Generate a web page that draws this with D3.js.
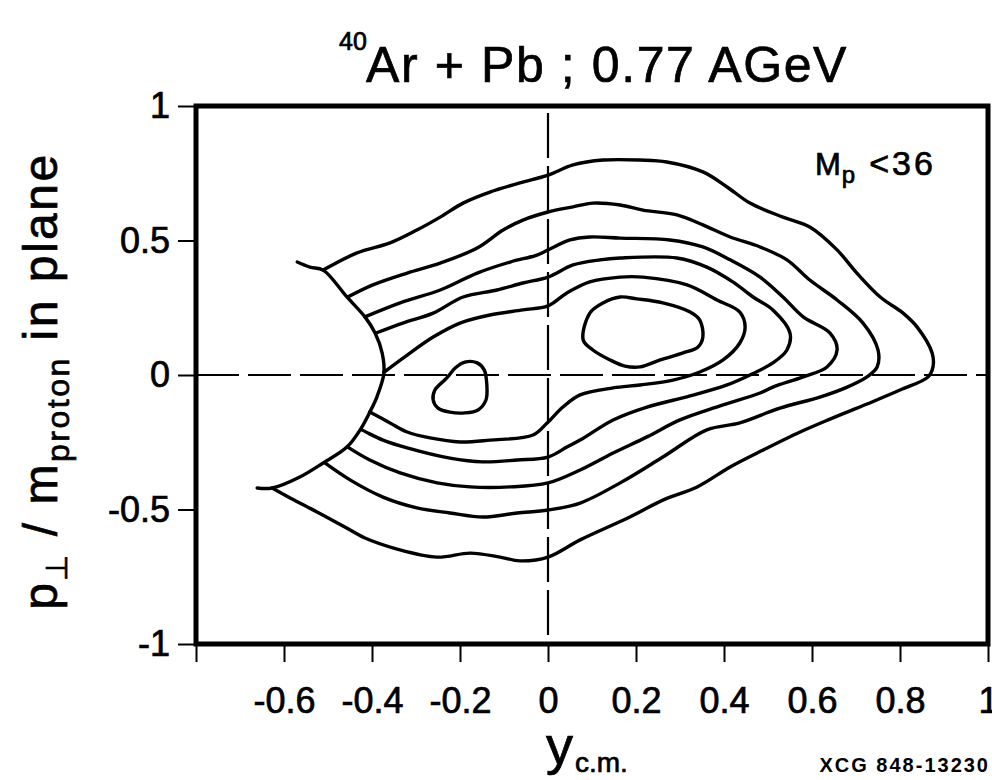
<!DOCTYPE html>
<html>
<head>
<meta charset="utf-8">
<script src="https://cdn.jsdelivr.net/npm/d3@7"></script>
<style>
  html, body { margin: 0; padding: 0; background: #fff; }
  svg { display: block; }
  text { font-family: "Liberation Sans", Arial, Helvetica, sans-serif; fill: #000; }
</style>
</head>
<body>
<svg id="chart" width="992" height="780"></svg>
<script>
// ---------------- data (y_cm , p_perp / m_proton) ----------------
const xTickValues = [-0.8, -0.6, -0.4, -0.2, 0, 0.2, 0.4, 0.6, 0.8, 1];
const xTickLabels = ["", "-0.6", "-0.4", "-0.2", "0", "0.2", "0.4", "0.6", "0.8", "1"];
const yTickValues = [-1, -0.5, 0, 0.5, 1];
const yTickLabels = ["-1", "-0.5", "0", "0.5", "1"];

// acceptance boundary (arc with short tails)
const boundary = [
  [-0.570, 0.420], [-0.541, 0.401], [-0.511, 0.390], [-0.457, 0.290], [-0.416, 0.216],
  [-0.393, 0.156], [-0.377, 0.082], [-0.373, 0.007], [-0.389, -0.082], [-0.405, -0.138],
  [-0.427, -0.204], [-0.457, -0.268], [-0.511, -0.327], [-0.564, -0.379], [-0.627, -0.420],
  [-0.661, -0.420]
];

// outermost contour
const contour1 = [
  [-0.511, 0.390], [-0.434, 0.454], [-0.359, 0.491], [-0.298, 0.539], [-0.245, 0.587],
  [-0.193, 0.639], [-0.132, 0.680], [-0.064, 0.714], [0, 0.743], [0.057, 0.781],
  [0.125, 0.799], [0.209, 0.799], [0.270, 0.792], [0.352, 0.755], [0.407, 0.699],
  [0.459, 0.639], [0.534, 0.587], [0.595, 0.550], [0.657, 0.465], [0.702, 0.379],
  [0.755, 0.290], [0.807, 0.230], [0.839, 0.178], [0.873, 0.082], [0.875, 0.030],
  [0.864, -0.007], [0.800, -0.056], [0.725, -0.108], [0.641, -0.164], [0.573, -0.212],
  [0.489, -0.279], [0.414, -0.342], [0.339, -0.416], [0.261, -0.465], [0.186, -0.528],
  [0.073, -0.613], [0, -0.677], [-0.064, -0.691], [-0.109, -0.677], [-0.177, -0.662],
  [-0.252, -0.677], [-0.343, -0.647], [-0.416, -0.606], [-0.466, -0.561], [-0.525, -0.509],
  [-0.586, -0.457], [-0.627, -0.420]
];

const contour2 = [
  [-0.455, 0.290], [-0.398, 0.335], [-0.320, 0.379], [-0.245, 0.416], [-0.161, 0.472],
  [-0.102, 0.539], [-0.057, 0.576], [0, 0.606], [0.057, 0.625], [0.102, 0.639],
  [0.164, 0.632], [0.216, 0.613], [0.293, 0.595], [0.352, 0.558], [0.414, 0.513],
  [0.482, 0.476], [0.543, 0.428], [0.595, 0.353], [0.657, 0.279], [0.716, 0.193],
  [0.750, 0.093], [0.748, 0.030], [0.725, -0.007], [0.680, -0.045], [0.618, -0.082],
  [0.527, -0.123], [0.436, -0.178], [0.361, -0.204], [0.261, -0.305], [0.164, -0.401],
  [0.073, -0.476], [0, -0.502], [-0.070, -0.513], [-0.148, -0.528], [-0.223, -0.513],
  [-0.298, -0.494], [-0.375, -0.454], [-0.450, -0.390], [-0.507, -0.327]
];

const contour3 = [
  [-0.416, 0.216], [-0.336, 0.268], [-0.245, 0.316], [-0.161, 0.379], [-0.086, 0.420],
  [-0.025, 0.446], [0, 0.465], [0.050, 0.502], [0.095, 0.513], [0.164, 0.509],
  [0.277, 0.502], [0.352, 0.476], [0.414, 0.428], [0.482, 0.364], [0.534, 0.290],
  [0.580, 0.216], [0.641, 0.156], [0.657, 0.093], [0.634, 0.030], [0.580, -0.007],
  [0.511, -0.045], [0.482, -0.067], [0.391, -0.115], [0.300, -0.167], [0.225, -0.230],
  [0.148, -0.290], [0.073, -0.353], [0, -0.401], [-0.086, -0.416], [-0.177, -0.416],
  [-0.252, -0.401], [-0.336, -0.364], [-0.405, -0.316], [-0.455, -0.268]
];

const contour4 = [
  [-0.391, 0.156], [-0.330, 0.193], [-0.261, 0.230], [-0.193, 0.290], [-0.116, 0.316],
  [-0.057, 0.342], [0, 0.364], [0.057, 0.409], [0.118, 0.428], [0.164, 0.435],
  [0.293, 0.435], [0.361, 0.401], [0.420, 0.346], [0.466, 0.290], [0.511, 0.242],
  [0.550, 0.156], [0.543, 0.093], [0.511, 0.045], [0.459, 0], [0.407, -0.037],
  [0.323, -0.078], [0.225, -0.119], [0.148, -0.167], [0.073, -0.242], [0.043, -0.268],
  [0, -0.305], [-0.070, -0.316], [-0.148, -0.323], [-0.223, -0.309], [-0.320, -0.271],
  [-0.375, -0.242], [-0.423, -0.204]
];

const contour5 = [
  [-0.373, 0.010], [-0.320, 0.074], [-0.261, 0.141], [-0.200, 0.193], [-0.132, 0.223],
  [-0.057, 0.242], [0, 0.257], [0.043, 0.305], [0.095, 0.346], [0.164, 0.364],
  [0.216, 0.364], [0.316, 0.335], [0.384, 0.279], [0.436, 0.234], [0.448, 0.178],
  [0.436, 0.119], [0.398, 0.056], [0.345, 0.011], [0.284, -0.019], [0.209, -0.037],
  [0.148, -0.048], [0.073, -0.074], [0.034, -0.119], [-0.002, -0.178], [-0.034, -0.223],
  [-0.132, -0.242], [-0.200, -0.249], [-0.268, -0.234], [-0.320, -0.212], [-0.359, -0.178],
  [-0.405, -0.138]
];

// closed loop around the main maximum
const peakLoop = [
  [0.080, 0.130], [0.095, 0.230], [0.125, 0.268], [0.164, 0.290], [0.202, 0.283],
  [0.261, 0.268], [0.323, 0.234], [0.345, 0.204], [0.352, 0.141], [0.341, 0.104],
  [0.307, 0.082], [0.255, 0.056], [0.209, 0.030], [0.175, 0.033], [0.141, 0.056],
  [0.102, 0.093]
];

// small closed loop near target rapidity
const smallLoop = [
  [-0.230, -0.011], [-0.211, 0.026], [-0.189, 0.048], [-0.161, 0.045], [-0.145, 0.019],
  [-0.139, -0.037], [-0.141, -0.093], [-0.159, -0.130], [-0.189, -0.141], [-0.223, -0.138],
  [-0.250, -0.123], [-0.261, -0.093], [-0.257, -0.056]
];

const openLines = [boundary, contour1, contour2, contour3, contour4, contour5];
const closedLines = [peakLoop, smallLoop];

// ---------------- drawing ----------------
const svg = d3.select("#chart");
const x = d3.scaleLinear().domain([-0.8, 1]).range([196, 988]);
const y = d3.scaleLinear().domain([-1, 1]).range([644, 106]);
const heavy = sel => sel.attr("stroke", "#000").attr("stroke-width", 0.7);

// zero lines (dashed)
svg.append("line")
  .attr("x1", x(-0.8)).attr("x2", x(1)).attr("y1", y(0)).attr("y2", y(0))
  .attr("stroke", "#000").attr("stroke-width", 2.2).attr("stroke-dasharray", "43,9");
svg.append("line")
  .attr("x1", x(0)).attr("x2", x(0)).attr("y1", y(1) + 7).attr("y2", y(-1))
  .attr("stroke", "#000").attr("stroke-width", 2.2).attr("stroke-dasharray", "45,8");

// contours
const lineOpen = d3.line().x(d => x(d[0])).y(d => y(d[1])).curve(d3.curveCatmullRom.alpha(0.5));
const lineClosed = d3.line().x(d => x(d[0])).y(d => y(d[1])).curve(d3.curveCatmullRomClosed.alpha(0.5));

svg.append("g").selectAll("path.open").data(openLines).join("path")
  .attr("class", "open")
  .attr("d", lineOpen)
  .attr("fill", "none").attr("stroke", "#000").attr("stroke-width", 3.4)
  .attr("stroke-linejoin", "round").attr("stroke-linecap", "round");
svg.append("g").selectAll("path.closed").data(closedLines).join("path")
  .attr("class", "closed")
  .attr("d", lineClosed)
  .attr("fill", "none").attr("stroke", "#000").attr("stroke-width", 3.4)
  .attr("stroke-linejoin", "round");

// axes
const xAxis = d3.axisBottom(x).tickValues(xTickValues)
  .tickFormat((d, i) => xTickLabels[i]).tickSize(18).tickPadding(25);
const gx = svg.append("g").attr("transform", `translate(0,${y(-1)})`).call(xAxis);
gx.select(".domain").remove();
gx.selectAll(".tick line").attr("stroke", "#000").attr("stroke-width", 2);
gx.selectAll(".tick text").attr("font-size", 36)
  .attr("font-family", "'Liberation Sans', Arial, sans-serif").attr("fill", "#000").call(heavy);

const yAxis = d3.axisLeft(y).tickValues(yTickValues)
  .tickFormat((d, i) => yTickLabels[i]).tickSize(18).tickPadding(8);
const gy = svg.append("g").attr("transform", `translate(${x(-0.8)},0)`).call(yAxis);
gy.select(".domain").remove();
gy.selectAll(".tick line").attr("stroke", "#000").attr("stroke-width", 2);
gy.selectAll(".tick text").attr("font-size", 36)
  .attr("font-family", "'Liberation Sans', Arial, sans-serif").attr("fill", "#000").call(heavy);

// frame
svg.append("rect")
  .attr("x", x(-0.8)).attr("y", y(1))
  .attr("width", x(1) - x(-0.8)).attr("height", y(-1) - y(1))
  .attr("fill", "none").attr("stroke", "#000").attr("stroke-width", 5);

// title
svg.append("text").attr("x", 339).attr("y", 50).attr("font-size", 25).call(heavy).text("40");
svg.append("text").attr("x", 366).attr("y", 82).attr("font-size", 50)
  .attr("letter-spacing", 1.6).call(heavy).text("Ar + Pb ; 0.77 AGeV");

// multiplicity annotation
const mp = svg.append("text").attr("x", 815).attr("y", 175).attr("font-size", 31).call(heavy);
mp.append("tspan").text("M");
mp.append("tspan").attr("font-size", 24).attr("dy", 8).attr("dx", 1).text("p");
mp.append("tspan").attr("dy", -8).attr("dx", 14).attr("font-size", 34).attr("letter-spacing", 3).text("<36");

// y axis title
const yt = svg.append("text")
  .attr("transform", "translate(57,381) rotate(-90)")
  .attr("text-anchor", "middle").attr("font-size", 48).attr("letter-spacing", 2.5).call(heavy);
yt.append("tspan").text("p");
yt.append("tspan").attr("font-size", 30).attr("dy", 10).text("\u22A5");
yt.append("tspan").attr("dy", -10).text(" / m");
yt.append("tspan").attr("font-size", 32).attr("dy", 12).text("proton");
yt.append("tspan").attr("dy", -12).text(" in plane");

// x axis title
const xt = svg.append("text").attr("x", 546).attr("y", 764).attr("font-size", 54).call(heavy);
xt.append("tspan").text("y");
xt.append("tspan").attr("font-size", 28).attr("dy", 8).attr("dx", 2).text("c.m.");

// figure code
svg.append("text").attr("x", 990).attr("y", 772).attr("text-anchor", "end")
  .attr("font-size", 20).attr("font-weight", "bold").attr("letter-spacing", 2)
  .text("XCG 848-13230");
</script>
</body>
</html>
